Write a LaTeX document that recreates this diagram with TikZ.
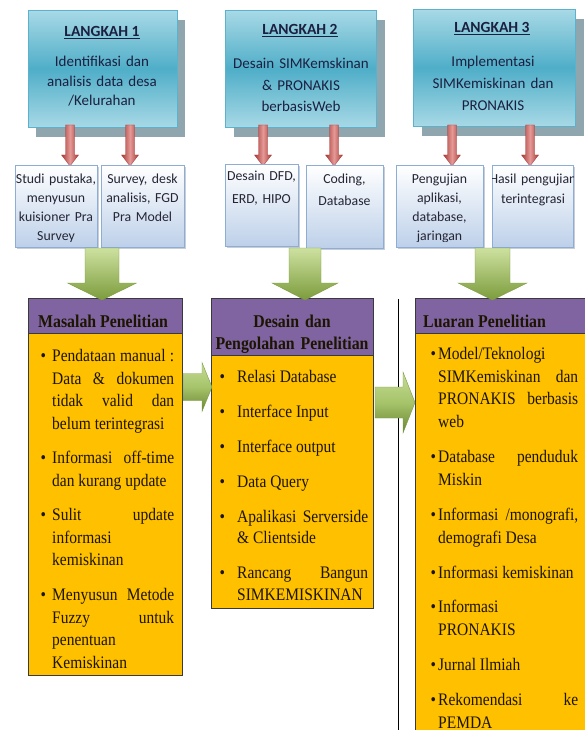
\documentclass[tikz,border=0pt]{standalone}
\usepackage{fontspec}
\setmainfont{Liberation Serif}[FakeStretch=0.88]
\newfontfamily\calibri{Carlito}
\definecolor{hdrtop}{HTML}{A8D9E6}
\definecolor{hdrmid}{HTML}{4FAEC8}
\definecolor{hdrborder}{HTML}{5AB2CC}
\definecolor{hdrshadow}{HTML}{8FA6AE}
\definecolor{hdrtext}{HTML}{1C2040}
\definecolor{sbbot}{HTML}{BDD0E9}
\definecolor{sbborder}{HTML}{8DADD4}
\definecolor{sbshadow}{HTML}{C9CED6}
\definecolor{sbtext}{HTML}{252535}
\definecolor{redD}{HTML}{A63A37}
\definecolor{redL}{HTML}{E59A97}
\definecolor{grnL}{HTML}{CDE1A0}
\definecolor{grnM}{HTML}{A6C46A}
\definecolor{grnD}{HTML}{7C9C3C}
\definecolor{purp}{HTML}{8064A2}
\definecolor{gold}{HTML}{FFC000}
\definecolor{bbborder}{HTML}{3A3A3A}
\definecolor{bbtext}{HTML}{1C1500}
\newcommand\listsetup{\parskip=0pt\relax\tolerance=10000\relax\hyphenpenalty=10000\relax\exhyphenpenalty=10000\relax\hbadness=10000\relax\hfuzz=20pt\relax}
\newcommand\bitem[3]{\noindent\hangindent=#1\hangafter=1\makebox[#1][l]{\hspace{#2}\textbullet}#3\par}
\newcommand\redarrow[1]{\path[left color=redD, right color=redD, middle color=redL, draw=redD, line width=0.3pt] ({#1-4.5},125) -- ({#1+4.5},125) -- ({#1+4.5},155) -- ({#1+8.5},155) -- (#1,166) -- ({#1-8.5},155) -- ({#1-4.5},155) -- cycle;}
% #1 cx, #2 shaft half, #3 head half
\newcommand\greendown[3]{\path[top color=grnL, bottom color=grnD, draw=grnD, line width=0.4pt] ({#1-#2},248) -- ({#1+#2},248) -- ({#1+#2},283) -- ({#1+#3},283) -- (#1,300) -- ({#1-#3},283) -- ({#1-#2},283) -- cycle;}
% #1 x start, #2 neck x, #3 tip x, #4 cy, #5 shaft half, #6 head half
\newcommand\greenright[6]{\path[top color=grnL!80!grnM, bottom color=grnD!85!black, middle color=grnM, draw=grnD, line width=0.4pt] (#1,{#4-#5}) -- (#2,{#4-#5}) -- (#2,{#4-#6}) -- (#3,#4) -- (#2,{#4+#6}) -- (#2,{#4+#5}) -- (#1,{#4+#5}) -- cycle;}
\tikzset{
  hdrbox/.style={draw=hdrborder, line width=0.8pt, top color=hdrtop, bottom color=hdrtop, middle color=hdrmid, inner sep=0pt, anchor=north west},
  hdrshad/.style={fill=hdrshadow, inner sep=0pt, anchor=north west},
  hdrtitle/.style={anchor=base, inner sep=0pt, text=hdrtext, font=\calibri\bfseries\fontsize{15.5}{18}\selectfont},
  hdrbody/.style={anchor=base, inner sep=0pt, text width=150pt, align=center, text=hdrtext, font=\calibri\fontsize{15}{#1}\selectfont},
  smallbox/.style={draw=sbborder, line width=0.8pt, top color=white, bottom color=sbbot, inner sep=0pt, anchor=north west},
  smallshad/.style={fill=sbshadow, inner sep=0pt, anchor=north west},
  smalltext/.style={anchor=base, inner sep=0pt, text width=110pt, align=center, text=sbtext, font=\calibri\fontsize{13.8}{#1}\selectfont},
  bbhead/.style={draw=bbborder, line width=1pt, fill=purp, inner sep=0pt, anchor=north west},
  bbbody/.style={draw=bbborder, line width=1pt, fill=gold, inner sep=0pt, anchor=north west},
  bbtitle/.style={inner sep=0pt, text=bbtext, font=\bfseries\fontsize{18}{22}\selectfont},
  bblist/.style={anchor=base west, inner sep=0pt, align=justify, text=bbtext,
    font=\fontsize{17.6}{#1}\selectfont}
}
\begin{document}
\begin{tikzpicture}[x=1pt,y=-1pt]
\useasboundingbox (0,0) rectangle (584,730);
% ---------- header boxes ----------
\node[hdrshad, minimum width=149pt, minimum height=117pt] (sh1) at (36,20) {};
\node[hdrshad, minimum width=151pt, minimum height=117pt] (sh2) at (234,20) {};
\node[hdrshad, minimum width=162pt, minimum height=117pt] (sh3) at (422,19) {};
\node[hdrbox, minimum width=149pt, minimum height=117pt] (h1) at (28,10) {};
\node[hdrbox, minimum width=151pt, minimum height=117pt] (h2) at (225,10) {};
\node[hdrbox, minimum width=162pt, minimum height=117pt] (h3) at (413,9) {};
\node[hdrtitle] (h1t) at (102,37) {\underline{LANGKAH 1}};
\node[hdrtitle] (h2t) at (300,35) {\underline{LANGKAH 2}};
\node[hdrtitle] (h3t) at (492,33) {\underline{LANGKAH 3}};
\node[hdrbody=19.5] (h1b) at (102,67) {Identifikasi dan\\analisis data desa\\/Kelurahan};
\node[hdrbody=21.5] (h2b) at (301,69) {Desain SIMKemskinan\\\& PRONAKIS\\berbasisWeb};
\node[hdrbody=22] (h3b) at (493,67) {Implementasi\\SIMKemiskinan dan\\PRONAKIS};
% ---------- red arrows ----------
\redarrow{70}\redarrow{130}
\redarrow{263}\redarrow{334}
\redarrow{452}\redarrow{530}
% ---------- small boxes ----------
\node[smallshad, minimum width=82pt, minimum height=82pt] (ss1) at (17,167) {};
\node[smallshad, minimum width=83pt, minimum height=82pt] (ss2) at (103,167) {};
\node[smallshad, minimum width=73pt, minimum height=82pt] (ss3) at (227,166) {};
\node[smallshad, minimum width=77pt, minimum height=83pt] (ss4) at (308,167) {};
\node[smallshad, minimum width=87pt, minimum height=82pt] (ss5) at (398,167) {};
\node[smallshad, minimum width=81pt, minimum height=82pt] (ss6) at (494,167) {};
\node[smallbox, minimum width=82pt, minimum height=82pt] (s1) at (15,165) {};
\node[smallbox, minimum width=83pt, minimum height=82pt] (s2) at (101,165) {};
\node[smallbox, minimum width=73pt, minimum height=82pt] (s3) at (225,164) {};
\node[smallbox, minimum width=77pt, minimum height=83pt] (s4) at (306,165) {};
\node[smallbox, minimum width=87pt, minimum height=82pt] (s5) at (396,165) {};
\node[smallbox, minimum width=81pt, minimum height=82pt] (s6) at (492,165) {};
\begin{scope}
  \clip (15,165) rectangle (97,241);
  \node[smalltext=19] (s1t) at (56,183.5) {Studi pustaka,\\menyusun\\kuisioner Pra\\Survey};
\end{scope}
\node[smalltext=19] (s2t) at (142.5,183.5) {Survey, desk\\analisis, FGD\\Pra Model};
\node[smalltext=22] (s3t) at (261.5,181) {Desain DFD,\\ERD, HIPO};
\node[smalltext=22] (s4t) at (344.5,183.5) {Coding,\\Database};
\begin{scope}
  \clip (396,165) rectangle (483,241);
  \node[smalltext=19] (s5t) at (439.5,183.5) {Pengujian\\aplikasi,\\database,\\jaringan};
\end{scope}
\begin{scope}
  \clip (492,165) rectangle (573,241);
  \node[smalltext=20] (s6t) at (533,183.5) {Hasil pengujian\\terintegrasi};
\end{scope}
% ---------- vertical divider ----------
\coordinate (vtop) at (398,299);
\coordinate (vbot) at (398,730);
\draw[line width=0.8pt, black] (vtop) -- (vbot);
% ---------- bottom boxes ----------
\node[bbbody, minimum width=154pt, minimum height=342pt] (m1b) at (28,333) {};
\node[bbhead, minimum width=154pt, minimum height=35pt] (m1h) at (28,298) {};
\node[bbbody, minimum width=162pt, minimum height=253pt] (m2b) at (211,355) {};
\node[bbhead, minimum width=162pt, minimum height=57pt] (m2h) at (211,298) {};
\node[bbbody, minimum width=175pt, minimum height=420pt] (m3b) at (415,333) {};
\node[bbhead, minimum width=175pt, minimum height=35pt] (m3h) at (415,298) {};
\node[bbtitle, anchor=base west] (m1t) at (38,327.5) {Masalah Penelitian};
\node[bbtitle, anchor=base, text width=160pt, align=center] (m2t) at (292,327.5) {Desain dan\\Pengolahan Penelitian};
\node[bbtitle, anchor=base west] (m3t) at (423,327.5) {Luaran Penelitian};
\node[bblist=22.5, text width=134pt] (m1l) at (40,361.5) {\listsetup%
\bitem{12pt}{0.5pt}{Pendataan~manual~:\linebreak Data~\&~dokumen\linebreak tidak~valid~dan\linebreak belum~terintegrasi}%
\vspace{12pt}%
\bitem{12pt}{0.5pt}{Informasi~off-time\linebreak dan~kurang~update}%
\vspace{12pt}%
\bitem{12pt}{0.5pt}{Sulit~update\linebreak informasi\linebreak kemiskinan}%
\vspace{12.5pt}%
\bitem{12pt}{0.5pt}{Menyusun~Metode\linebreak Fuzzy~untuk\linebreak penentuan\linebreak Kemiskinan}};
\node[bblist=21.5, text width=149pt] (m2l) at (219,382.5) {\listsetup%
\bitem{18pt}{0.5pt}{Relasi~Database}%
\vspace{13.5pt}%
\bitem{18pt}{0.5pt}{Interface~Input}%
\vspace{13pt}%
\bitem{18pt}{0.5pt}{Interface~output}%
\vspace{13.5pt}%
\bitem{18pt}{0.5pt}{Data~Query}%
\vspace{13.5pt}%
\bitem{18pt}{0.5pt}{Apalikasi~Serverside\linebreak \&~Clientside}%
\vspace{13.5pt}%
\bitem{18pt}{0.5pt}{Rancang~Bangun\linebreak SIMKEMISKINAN}};
\node[bblist=22.7, text width=148pt] (m3l) at (430,359.5) {\listsetup%
\bitem{8pt}{0.5pt}{Model/Teknologi\linebreak SIMKemiskinan~dan\linebreak PRONAKIS~berbasis\linebreak web}%
\vspace{12.3pt}%
\bitem{8pt}{0.5pt}{Database~penduduk\linebreak Miskin}%
\vspace{12.3pt}%
\bitem{8pt}{0.5pt}{Informasi~/monografi,\linebreak demografi~Desa}%
\vspace{12.3pt}%
\bitem{8pt}{0.5pt}{Informasi~kemiskinan}%
\vspace{12pt}%
\bitem{8pt}{0.5pt}{Informasi\linebreak PRONAKIS}%
\vspace{12.3pt}%
\bitem{8pt}{0.5pt}{Jurnal~Ilmiah}%
\vspace{12.3pt}%
\bitem{8pt}{0.5pt}{Rekomendasi~ke\linebreak PEMDA}};
% ---------- green arrows ----------
\greendown{102}{17}{34.5}
\greendown{305}{16}{33}
\greendown{492.5}{17.5}{34.5}
\greenright{183}{202}{212}{387}{13.5}{24.5}
\greenright{375}{403}{415}{402.5}{15.5}{30.5}
\end{tikzpicture}
\end{document}
